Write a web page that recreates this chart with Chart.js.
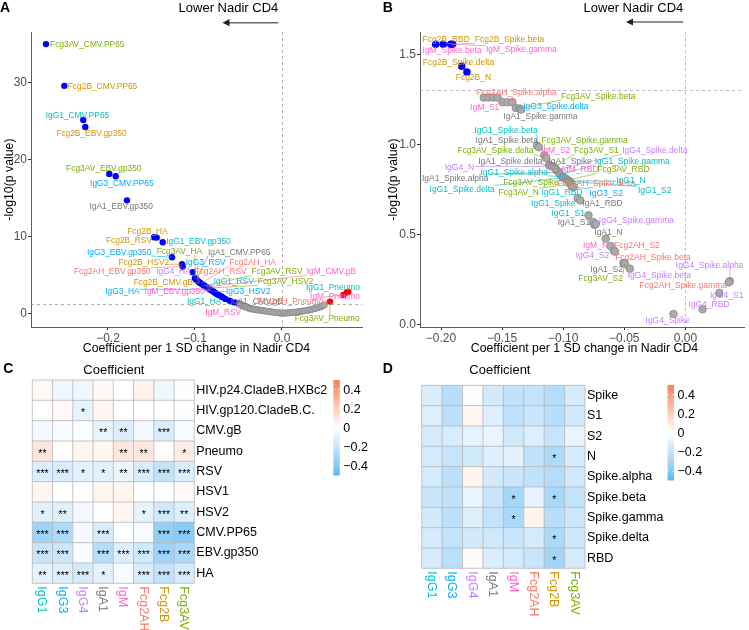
<!DOCTYPE html>
<html><head><meta charset="utf-8">
<script src="https://cdn.jsdelivr.net/npm/chart.js@4.4.1/dist/chart.umd.min.js"></script>
<style>
html,body{margin:0;padding:0;background:#fff;}
body{width:749px;height:630px;position:relative;overflow:hidden;}
canvas{position:absolute;}
</style></head><body>
<canvas id="cA" width="370" height="360" style="left:0;top:0"></canvas>
<canvas id="cB" width="379" height="360" style="left:370px;top:0"></canvas>
<canvas id="cC" width="370" height="290" style="left:0;top:340px"></canvas>
<canvas id="cD" width="379" height="290" style="left:370px;top:340px"></canvas>
<script>
// ---------------- DATA ----------------
// Panel A: coefficient and -log10(p) per isotype_antigen
const aNames = [
 'Fcg3AV_CMV.PP65','Fcg2B_CMV.PP65','IgG1_CMV.PP65','Fcg2B_EBV.gp350','Fcg3AV_EBV.gp350','IgG3_CMV.PP65','IgA1_EBV.gp350',
 'Fcg2B_HA','Fcg2B_RSV','IgG1_EBV.gp350','IgG3_EBV.gp350','Fcg2B_HSV2','Fcg2AH_EBV.gp350','IgG4_HA',
 'Fcg3AV_HA','IgA1_CMV.PP65','IgG3_RSV','Fcg2AH_RSV','Fcg2B_CMV.gB','Fcg2AH_HA','IgG1_RSV','Fcg3AV_RSV','IgM_CMV.gB',
 'Fcg3AV_HSV2','IgG3_HA','IgM_EBV.gp350','IgG3_HSV2','IgG1_HSV2','IgA1_RSV','IgG4_RSV','IgA1_HA','IgG1_HA',
 'Fcg2AH_HSV2','IgG4_HIV.gp120','IgA1_CMV.gB','IgM_RSV',
 'IgG1_Pneumo','IgM_Pneumo','Fcg2AH_Pneumo','Fcg3AV_Pneumo',
 'IgG1_CMV.gB','IgG3_CMV.gB','Fcg3AV_CMV.gB','IgG4_CMV.gB','Fcg2AH_CMV.gB','IgG4_CMV.PP65','Fcg2AH_CMV.PP65','IgG4_EBV.gp350',
 'IgG4_HSV2','IgM_HA','Fcg2B_HSV1','Fcg2AH_HSV1','IgG4_HSV1','IgG3_HIV.p24','IgG4_HIV.p24','Fcg2B_HIV.p24','IgM_HIV.p24',
 'Fcg3AV_HIV.p24','IgM_HIV.gp120','Fcg2AH_HIV.gp120','Fcg2B_HIV.gp120','Fcg3AV_HIV.gp120',
 'IgG1_HIV.gp120','IgM_CMV.PP65','IgA1_HSV2','IgG3_HSV1','Fcg3AV_HSV1','IgM_HSV1','IgG3_Pneumo','Fcg2B_Pneumo','IgA1_HSV1',
 'IgG1_HSV1','IgA1_Pneumo','IgG4_Pneumo','IgA1_HIV.gp120','IgG3_HIV.gp120','IgA1_HIV.p24','IgG1_HIV.p24','IgM_HSV2','Fcg2AH_HIV.p24'
];
const aCoef = [
 -0.2713,-0.2502,-0.2284,-0.2261,-0.1985,-0.1911,-0.1782,
 -0.1471,-0.1440,-0.1371,-0.1264,-0.1149,-0.1141,-0.1026,
 -0.1000,-0.0985,-0.0970,-0.0955,-0.0945,-0.0930,-0.0905,-0.0890,-0.0870,
 -0.0850,-0.0830,-0.0810,-0.0790,-0.0770,-0.0750,-0.0730,-0.0700,-0.0680,
 -0.0650,-0.0600,-0.0550,-0.0500,
 0.0762,0.0744,0.0705,0.0552,
 -0.0480,-0.0465,-0.0450,-0.0432,-0.0415,-0.0398,-0.0380,-0.0362,-0.0343,-0.0322,-0.0300,-0.0276,-0.0252,-0.0228,
 -0.0205,-0.0180,-0.0150,-0.0120,-0.0090,-0.0060,-0.0030,-0.0008,
 0.0020,0.0045,0.0070,0.0095,0.0120,0.0150,0.0180,0.0205,0.0230,0.0260,0.0290,0.0320,0.0350,0.0380,0.0410,0.0440,0.0465,0.0485
];
const aNegLogP = [
 35.03,29.61,25.17,24.26,18.18,17.88,14.74,
 9.96,9.91,9.31,7.36,6.45,6.14,5.42,
 4.62,4.45,4.30,4.15,4.05,3.95,3.75,3.62,3.50,
 3.35,3.20,3.05,2.90,2.75,2.60,2.45,2.30,2.15,
 1.95,1.70,1.50,1.35,
 2.86,2.78,2.47,1.60,
 1.25,1.15,1.06,0.97,0.90,0.82,0.75,0.69,0.64,0.60,0.56,0.52,0.48,0.44,
 0.40,0.36,0.31,0.26,0.21,0.17,0.13,0.10,
 0.10,0.12,0.14,0.16,0.19,0.22,0.26,0.30,0.35,0.40,0.46,0.53,0.61,0.70,0.80,0.92,1.04,1.15
];
const aXTicks = [-0.2, -0.1, 0.0];
const aYTicks = [0, 10, 20, 30];

// Panel B
const bNames = [
 'Fcg2B_RBD','IgM_Spike.beta','Fcg2B_Spike.beta','IgM_Spike.gamma','Fcg2B_Spike.delta','Fcg2B_N',
 'IgG3_Spike.beta','IgG3_Spike.gamma','IgG3_RBD','IgG3_Spike.alpha','IgG3_S1','IgM_S1','Fcg2AH_Spike.alpha',
 'IgG3_Spike.delta','Fcg3AV_Spike.beta','IgA1_Spike.gamma',
 'IgG1_Spike.beta','IgA1_Spike.beta','Fcg3AV_Spike.gamma','Fcg3AV_Spike.delta','IgA1_Spike.delta','IgM_S2','IgG4_N',
 'Fcg3AV_S1','IgG4_Spike.delta','IgA1_Spike.alpha','IgA1_Spike','IgG1_Spike.gamma','IgG1_Spike.alpha','IgG1_Spike.delta',
 'IgM_RBD','Fcg3AV_Spike','Fcg3AV_RBD','IgG1_N','IgG1_S2','Fcg2AH_Spike.delta','Fcg3AV_N','IgG1_RBD','IgG3_S2',
 'IgG1_Spike','IgA1_RBD','IgG1_S1','IgA1_S1','IgA1_N','IgG4_Spike.gamma','IgM_N','Fcg2AH_S2','IgG4_S2',
 'Fcg2AH_Spike.beta','IgA1_S2','Fcg3AV_S2','IgG4_Spike.beta','IgG4_Spike','IgG4_RBD','IgG4_S1','IgG4_Spike.alpha',
 'Fcg2AH_Spike.gamma'
];
const bCoef = [
 -0.2044,-0.1982,-0.1920,-0.1905,-0.1831,-0.1788,
 -0.1650,-0.1613,-0.1572,-0.1537,-0.1497,-0.1456,-0.1416,
 -0.1388,-0.1356,-0.1345,
 -0.1215,-0.1200,-0.1154,-0.1140,-0.1115,-0.1110,-0.1090,
 -0.1075,-0.1057,-0.1035,-0.1040,-0.1024,-0.1005,-0.1000,
 -0.0980,-0.0970,-0.0963,-0.0955,-0.0945,-0.0950,-0.0940,-0.0930,-0.0915,
 -0.0882,-0.0860,-0.0793,-0.0755,-0.0745,-0.0733,-0.0652,-0.0612,-0.0585,
 -0.0575,-0.0507,-0.0496,-0.0455,-0.0097,0.0141,0.0278,0.0364,
 0.0355
];
const bNegLogP = [
 1.557,1.557,1.557,1.557,1.435,1.403,
 1.261,1.261,1.261,1.261,1.235,1.235,1.235,
 1.203,1.200,1.195,
 0.995,0.985,0.940,0.925,0.885,0.883,0.878,
 0.875,0.859,0.845,0.850,0.833,0.822,0.815,
 0.811,0.806,0.802,0.798,0.795,0.790,0.780,0.770,0.765,
 0.702,0.690,0.607,0.570,0.555,0.559,0.478,0.437,0.411,
 0.405,0.342,0.339,0.311,0.059,0.085,0.176,0.242,
 0.235
];
const bXTicks = [-0.20, -0.15, -0.10, -0.05, 0.00];
const bYTicks = [0, 0.5, 1.0, 1.5];

// Panels C and D (heatmaps, values read against the colour legend)
const isotypes = ['IgG1','IgG3','IgG4','IgA1','IgM','Fcg2AH','Fcg2B','Fcg3AV'];
const cRows = ['HIV.p24.CladeB.HXBc2','HIV.gp120.CladeB.C.','CMV.gB','Pneumo','RSV','HSV1','HSV2','CMV.PP65','EBV.gp350','HA'];
const cCoef = [
 [0.026,-0.056,-0.056,0.026,0.000,0.052,-0.056,-0.014],
 [0.000,0.026,-0.084,0.039,0.000,0.000,0.000,-0.014],
 [-0.042,-0.028,-0.014,-0.077,-0.122,-0.042,-0.133,-0.028],
 [0.099,0.000,0.039,0.033,0.096,0.092,0.007,0.072],
 [-0.127,-0.136,-0.102,-0.105,-0.070,-0.134,-0.202,-0.125],
 [0.039,0.000,0.000,0.039,0.039,0.000,0.000,0.026],
 [-0.108,-0.111,-0.042,0.000,0.039,-0.091,-0.161,-0.119],
 [-0.319,-0.267,-0.042,-0.139,0.000,-0.028,-0.350,-0.379],
 [-0.192,-0.176,-0.028,-0.249,-0.113,-0.160,-0.316,-0.279],
 [-0.095,-0.116,-0.144,-0.098,-0.028,-0.130,-0.206,-0.140]
];
const cStars = [
 [0,0,0,0,0,0,0,0],
 [0,0,1,0,0,0,0,0],
 [0,0,0,2,2,0,3,0],
 [2,0,0,0,2,2,0,1],
 [3,3,1,1,2,3,3,3],
 [0,0,0,0,0,0,0,0],
 [1,2,0,0,0,1,3,2],
 [3,3,0,3,0,0,3,3],
 [3,3,0,3,3,3,3,3],
 [2,3,3,1,0,3,3,3]
];
const dRows = ['Spike','S1','S2','N','Spike.alpha','Spike.beta','Spike.gamma','Spike.delta','RBD'];
const dCoef = [
 [-0.132,-0.240,-0.015,-0.156,-0.210,-0.203,-0.248,-0.146],
 [-0.119,-0.225,0.036,-0.114,-0.219,-0.180,-0.240,-0.162],
 [-0.143,-0.138,-0.090,-0.077,-0.167,-0.120,-0.195,-0.075],
 [-0.144,-0.195,-0.164,-0.113,-0.098,-0.210,-0.269,-0.141],
 [-0.150,-0.231,0.047,-0.156,-0.180,-0.213,-0.248,-0.165],
 [-0.183,-0.210,-0.069,-0.180,-0.297,-0.087,-0.288,-0.204],
 [-0.153,-0.225,-0.110,-0.203,-0.287,0.047,-0.240,-0.173],
 [-0.150,-0.209,-0.159,-0.168,-0.180,-0.143,-0.275,-0.171],
 [-0.140,-0.236,0.021,-0.129,-0.147,-0.188,-0.306,-0.144]
];
const dStars = [
 [0,0,0,0,0,0,0,0],
 [0,0,0,0,0,0,0,0],
 [0,0,0,0,0,0,0,0],
 [0,0,0,0,0,0,1,0],
 [0,0,0,0,0,0,0,0],
 [0,0,0,0,1,0,1,0],
 [0,0,0,0,1,0,0,0],
 [0,0,0,0,0,0,1,0],
 [0,0,0,0,0,0,1,0]
];
const legendTicks = [0.4, 0.2, 0, -0.2, -0.4];

// ---------------- STYLE / LAYOUT ----------------
const FONT = "'Liberation Sans', Arial, Helvetica, sans-serif";
Chart.defaults.font.family = FONT;
Chart.defaults.color = '#4D4D4D';
const isoColors = {IgG1:'#00BFC4', IgG3:'#00A9FF', IgG4:'#C77CFF', IgA1:'#777777', IgM:'#FF61CC', Fcg2AH:'#F8766D', Fcg2B:'#CD9600', Fcg3AV:'#7CAE00'};
const SIG = -Math.log10(0.05);
const MINUS = '\u2212';

// label nudges in pixels (label centre relative to point) - ggrepel-like layout
const aLabelNudge = {
 'Fcg3AV_CMV.PP65':[41.3,0],'Fcg2B_CMV.PP65':[38.2,0],'IgG1_CMV.PP65':[-5.8,-5],'Fcg2B_EBV.gp350':[6.2,5.7],
 'Fcg3AV_EBV.gp350':[-5.5,-5.3],'IgG3_CMV.PP65':[6.1,6.7],'IgA1_EBV.gp350':[-5.8,5.7],'Fcg2B_HA':[-6.5,-5.6],
 'Fcg2B_RSV':[-27.7,3],'IgG1_EBV.gp350':[35.8,-0.6],'IgG3_EBV.gp350':[-52.8,-5],'Fcg2B_HSV2':[-38.2,-2],
 'Fcg2AH_EBV.gp350':[-70.5,5],'IgG4_HA':[-19.2,-0.6],
 'Fcg3AV_HA':[-15.5,-27.4],'IgA1_CMV.PP65':[42.9,-27.4],'IgG3_RSV':[8.1,-18.6],'Fcg2AH_RSV':[21.6,-10.3],
 'Fcg2B_CMV.gB':[-36.5,-0.5],'Fcg2AH_HA':[51.6,-21.3],'IgG1_RSV':[30.5,-3.4],'Fcg3AV_RSV':[72.4,-14.4],
 'IgM_CMV.gB':[125,-15.4],'Fcg3AV_HSV2':[77.6,-6.5],'IgG3_HA':[-87.3,2.3],'IgM_EBV.gp350':[-36.8,1.2],
 'IgG3_HSV2':[35,0],'IgG1_HA':[-18.6,3.6],'IgA1_CMV.gB':[22.8,-1.5],'IgM_RSV':[-15.2,9.1],
 'IgG1_Pneumo':[-15.3,-4.7],'IgM_Pneumo':[-11.7,4],'Fcg2AH_Pneumo':[-53,6],'Fcg3AV_Pneumo':[-2.8,16.6]
};
const bLabelNudge = {
 'Fcg2B_RBD':[10.6,-4.7],'IgM_Spike.beta':[8.9,6],'Fcg2B_Spike.beta':[58.7,-4.7],'IgM_Spike.gamma':[68.7,5.3],
 'Fcg2B_Spike.delta':[-3.2,-4.3],'Fcg2B_N':[6.5,5.6],
 'IgM_S1':[-22.8,5.3],'Fcg2AH_Spike.alpha':[4.4,-9.7],'IgG3_Spike.delta':[40,-1.8],'Fcg3AV_Spike.beta':[78.5,-12.3],
 'IgA1_Spike.gamma':[19.4,6.8],
 'IgG1_Spike.beta':[-30.9,-15.2],'IgA1_Spike.beta':[-32,-7],'Fcg3AV_Spike.gamma':[40.3,-15.1],'Fcg3AV_Spike.delta':[-50.7,-7.8],
 'IgA1_Spike.delta':[-38.8,-4.3],'IgM_S2':[5.9,-15.4],'IgG4_N':[-92.8,0.4],'Fcg3AV_S1':[42.4,-16.8],
 'IgG4_Spike.delta':[98.6,-19.7],'IgA1_Spike.alpha':[-103.7,5.5],'IgA1_Spike':[11.9,-10.6],'IgG1_Spike.gamma':[72,-13.7],
 'IgG1_Spike.alpha':[-48.3,-4.6],'IgG1_Spike.delta':[-101,11.4],'IgM_RBD':[14.5,-9],'Fcg3AV_Spike':[-35.9,2.5],
 'Fcg3AV_RBD':[55.7,-10.7],'IgG1_N':[62.2,-0.7],'IgG1_S2':[84.8,8.8],'Fcg2AH_Spike.delta':[27.1,1.2],
 'Fcg3AV_N':[-51.8,7.8],'IgG1_RBD':[-9.7,6],'IgG3_S2':[32.5,6.1],'IgG1_Spike':[-24.3,4.7],'IgA1_RBD':[22.2,2.6],
 'IgG1_S1':[-20.3,-2.3],'IgA1_S1':[-19.2,0],'IgA1_N':[14.1,7.3],'IgG4_Spike.gamma':[40.6,-3.7],'IgM_N':[-10.2,6.7],
 'Fcg2AH_S2':[26.3,-0.6],'IgG4_S2':[-21.5,4.7],'Fcg2AH_Spike.beta':[37.8,5.3],'IgA1_S2':[-16.8,5.6],
 'Fcg3AV_S2':[-24.2,14.4],'IgG4_Spike.beta':[29.6,6.7],'IgG4_Spike':[-5.8,6.3],'IgG4_RBD':[6.3,-5],
 'IgG4_S1':[7.3,1.7],'IgG4_Spike.alpha':[-20.3,-15.7],'Fcg2AH_Spike.gamma':[-45.5,3]
};

// ---------------- helpers ----------------
function fmtNum(v, d){ const s = Math.abs(v).toFixed(d); return (v < -1e-9 ? MINUS : '') + s; }

function volcano(id, names, coef, nlp, cfg){
  const pts = names.map((n,i)=>({x:coef[i], y:nlp[i], name:n}));
  const gray = pts.filter(p=>p.y < SIG);
  const blue = pts.filter(p=>p.y >= SIG && p.x < 0);
  const red = pts.filter(p=>p.y >= SIG && p.x >= 0);
  const plugin = {
    id:'volc'+cfg.letter,
    beforeDatasetsDraw(chart){
      const {ctx, chartArea:a, scales:{x,y}} = chart;
      ctx.save(); ctx.strokeStyle = cfg.dashColor; ctx.lineWidth = 0.8; ctx.setLineDash([3,3]);
      ctx.beginPath();
      const y0 = Math.round(y.getPixelForValue(SIG))+0.5; ctx.moveTo(a.left,y0); ctx.lineTo(a.right,y0);
      const x0 = Math.round(x.getPixelForValue(0))+0.5; ctx.moveTo(x0,a.top); ctx.lineTo(x0,a.bottom);
      ctx.stroke(); ctx.restore();
    },
    afterDatasetsDraw(chart){
      const {ctx, scales:{x,y}} = chart;
      ctx.save();
      ctx.font = cfg.labelSize+'px '+FONT; ctx.textAlign='center'; ctx.textBaseline='middle';
      names.forEach((n,i)=>{
        const nud = cfg.nudge[n]; if(!nud) return;
        const px = x.getPixelForValue(coef[i]), py = y.getPixelForValue(nlp[i]);
        const cx = px+nud[0], cy = py+nud[1];
        const w = ctx.measureText(n).width, h = cfg.labelSize*0.9;
        const col = isoColors[n.split('_')[0]];
        const nx = Math.max(cx-w/2, Math.min(px, cx+w/2)), ny = Math.max(cy-h/2, Math.min(py, cy+h/2));
        if (Math.hypot(nx-px, ny-py) > cfg.r+2){
          ctx.strokeStyle = col; ctx.lineWidth = 0.6; ctx.beginPath(); ctx.moveTo(px,py); ctx.lineTo(nx,ny); ctx.stroke();
        }
        ctx.fillStyle = col; ctx.fillText(n, cx, cy+0.5);
      });
      ctx.restore();
    },
    afterDraw(chart){
      const {ctx, chartArea:a} = chart;
      ctx.save();
      ctx.fillStyle = '#000'; ctx.font = 'bold 14px '+FONT; ctx.textAlign='left'; ctx.textBaseline='alphabetic';
      ctx.fillText(cfg.letter, cfg.letterX, 11.8);
      ctx.font = '13px '+FONT; ctx.textAlign='right';
      ctx.fillText('Lower Nadir CD4', cfg.arrowRight, 11.8);
      // arrow
      ctx.strokeStyle = '#6b6b6b'; ctx.lineWidth = 1.6; ctx.beginPath();
      ctx.moveTo(cfg.arrowRight, cfg.arrowY); ctx.lineTo(cfg.arrowTip+6, cfg.arrowY); ctx.stroke();
      ctx.fillStyle = '#222'; ctx.beginPath();
      ctx.moveTo(cfg.arrowTip, cfg.arrowY); ctx.lineTo(cfg.arrowTip+7, cfg.arrowY-3.6); ctx.lineTo(cfg.arrowTip+7, cfg.arrowY+3.6); ctx.closePath(); ctx.fill();
      // axis titles
      ctx.fillStyle = '#000'; ctx.font = '12.3px '+FONT; ctx.textAlign='center';
      ctx.fillText('Coefficient per 1 SD change in Nadir CD4', cfg.xTitleX, 352.3);
      ctx.translate(cfg.yTitleX, (a.top+a.bottom)/2); ctx.rotate(-Math.PI/2); ctx.textBaseline='middle';
      ctx.fillText('-log10(p value)', 0, 0);
      ctx.restore();
    }
  };
  const ds = (data, bg, bc, bw) => ({data, backgroundColor:bg, borderColor:bc, borderWidth:bw, pointRadius:cfg.r, pointHoverRadius:cfg.r});
  return new Chart(document.getElementById(id), {
    type:'scatter',
    data:{datasets:[ds(gray,'#ABABAB','#868686',0.8), ds(blue,'#0000FF','#0000FF',0), ds(red,'#FF0000','#FF0000',0)]},
    options:{
      responsive:false, animation:false, devicePixelRatio:1,
      layout:{padding:{left:0, top:32, right:cfg.padRight, bottom:0}},
      plugins:{legend:{display:false}, tooltip:{enabled:false}},
      scales:{
        x:{type:'linear', min:cfg.xMin, max:cfg.xMax,
           afterBuildTicks:s=>{ s.ticks = cfg.xTicks.map(v=>({value:v})); },
           afterFit:s=>{ s.height = 33; },
           grid:{drawOnChartArea:false, tickLength:3, color:'#333', tickColor:'#333'},
           border:{display:true, color:'#333', width:0.8},
           ticks:{padding:1, color:'#4D4D4D', font:{size:12}, maxRotation:0, autoSkip:false, callback:v=>fmtNum(v, cfg.xDec)}},
        y:{type:'linear', min:cfg.yMin, max:cfg.yMax,
           afterBuildTicks:s=>{ s.ticks = cfg.yTicks.map(v=>({value:v})); },
           afterFit:s=>{ s.width = cfg.yWidth; },
           grid:{drawOnChartArea:false, tickLength:3, color:'#333', tickColor:'#333'},
           border:{display:true, color:'#333', width:0.8},
           ticks:{padding:1, color:'#4D4D4D', font:{size:12}, autoSkip:false, callback:v=>fmtNum(v, cfg.yDec)}}
      }
    },
    plugins:[plugin]
  });
}

// Lab colour interpolation (like ggplot gradient2)
function toLin(c){ c/=255; return c<=0.04045 ? c/12.92 : Math.pow((c+0.055)/1.055, 2.4); }
function fromLin(c){ const v = c<=0.0031308 ? 12.92*c : 1.055*Math.pow(c,1/2.4)-0.055; return Math.round(Math.max(0,Math.min(1,v))*255); }
function rgb2lab(c){
  const r=toLin(c[0]), g=toLin(c[1]), b=toLin(c[2]);
  const X=(0.4124*r+0.3576*g+0.1805*b)/0.95047, Y=(0.2126*r+0.7152*g+0.0722*b), Z=(0.0193*r+0.1192*g+0.9505*b)/1.08883;
  const f=t=>t>0.008856?Math.cbrt(t):7.787*t+16/116;
  const fx=f(X), fy=f(Y), fz=f(Z);
  return [116*fy-16, 500*(fx-fy), 200*(fy-fz)];
}
function lab2rgb(l){
  const fy=(l[0]+16)/116, fx=fy+l[1]/500, fz=fy-l[2]/200;
  const fi=t=>t*t*t>0.008856?t*t*t:(t-16/116)/7.787;
  const X=fi(fx)*0.95047, Y=fi(fy), Z=fi(fz)*1.08883;
  const r= 3.2406*X-1.5372*Y-0.4986*Z, g=-0.9689*X+1.8758*Y+0.0415*Z, b=0.0557*X-0.2040*Y+1.0570*Z;
  return [fromLin(r), fromLin(g), fromLin(b)];
}
const LAB_LOW = rgb2lab([80,188,245]), LAB_MID = rgb2lab([255,255,255]), LAB_HIGH = rgb2lab([244,128,86]);
const LIM = 0.5;
function fillFor(v){
  let t = Math.max(-1, Math.min(1, v/LIM));
  const end = t<0 ? LAB_LOW : LAB_HIGH; t = Math.abs(t);
  const l = [0,1,2].map(k=>LAB_MID[k]+(end[k]-LAB_MID[k])*t);
  const c = lab2rgb(l); return 'rgb('+c[0]+','+c[1]+','+c[2]+')';
}

function heatmap(id, rows, cols, coef, stars, cfg){
  const nR = rows.length;
  const datasets = [];
  for (let k=0;k<nR;k++){
    const r = nR-1-k;
    datasets.push({data: cols.map(()=>1), backgroundColor: coef[r].map(fillFor), borderWidth:0,
      barPercentage:1, categoryPercentage:1, stack:'s'});
  }
  const plugin = {
    id:'heat'+cfg.letter,
    afterDatasetsDraw(chart){
      const {ctx, chartArea:a, scales:{x,y}} = chart;
      ctx.save();
      ctx.strokeStyle = '#B6B6B6'; ctx.lineWidth = 0.8; ctx.beginPath();
      for (let k=0;k<=nR;k++){ const yy = y.getPixelForValue(k); ctx.moveTo(a.left,yy); ctx.lineTo(a.right,yy); }
      const cw = (a.right-a.left)/cols.length;
      for (let c=0;c<=cols.length;c++){ const xx = a.left+c*cw; ctx.moveTo(xx,a.top); ctx.lineTo(xx,a.bottom); }
      ctx.stroke();
      ctx.fillStyle = '#000'; ctx.font = '10.5px '+FONT; ctx.textAlign='center'; ctx.textBaseline='middle';
      rows.forEach((r,ri)=>{
        const meta = chart.getDatasetMeta(nR-1-ri);
        stars[ri].forEach((s,ci)=>{ if(!s) return; const el = meta.data[ci];
          ctx.fillText('*'.repeat(s), el.x, (el.y+el.base)/2+2.5); });
      });
      ctx.restore();
    },
    afterDraw(chart){
      const {ctx, chartArea:a, scales:{x}} = chart;
      ctx.save();
      ctx.fillStyle='#000'; ctx.textBaseline='alphabetic'; ctx.textAlign='left';
      ctx.font='bold 14px '+FONT; ctx.fillText(cfg.letter, cfg.letterX, 33);
      ctx.font='13px '+FONT; ctx.fillText('Coefficient', cfg.titleX, 34);
      // column labels (rotated, reading downward)
      ctx.font='12.5px '+FONT;
      cols.forEach((c,ci)=>{
        const xx = x.getPixelForValue(ci);
        ctx.save(); ctx.translate(xx, a.bottom+3); ctx.rotate(Math.PI/2);
        ctx.textAlign='left'; ctx.textBaseline='middle'; ctx.fillStyle = isoColors[c];
        ctx.fillText(c, 0, 0.5); ctx.restore();
      });
      // colour legend
      const top = cfg.legTop, h = 95.5, lx = cfg.legX, lw = 6.5;
      const vToY = v => top + (LIM - v)/(2*LIM)*h;
      const grad = ctx.createLinearGradient(0, top, 0, top+h);
      for (let i=0;i<=20;i++){ const v = LIM - i*(2*LIM)/20; grad.addColorStop(i/20, fillFor(v)); }
      ctx.fillStyle = grad; ctx.fillRect(lx, top, lw, h);
      ctx.strokeStyle='#fff'; ctx.lineWidth=0.8; ctx.beginPath();
      legendTicks.forEach(v=>{ const yy=vToY(v); ctx.moveTo(lx,yy); ctx.lineTo(lx+1.4,yy); ctx.moveTo(lx+lw-1.4,yy); ctx.lineTo(lx+lw,yy); });
      ctx.stroke();
      ctx.fillStyle='#000'; ctx.font='12.5px '+FONT; ctx.textAlign='left'; ctx.textBaseline='middle';
      legendTicks.forEach(v=>{ ctx.fillText(v===0?'0':fmtNum(v,1), lx+lw+3.5, vToY(v)+0.5); });
      ctx.restore();
    }
  };
  return new Chart(document.getElementById(id), {
    type:'bar',
    data:{labels: cols, datasets},
    options:{
      responsive:false, animation:false, devicePixelRatio:1,
      layout:{padding:{left:cfg.left, top:cfg.top, right:0, bottom:0}},
      plugins:{legend:{display:false}, tooltip:{enabled:false}},
      scales:{
        x:{type:'category', stacked:true, ticks:{display:false}, grid:{display:false, drawTicks:false}, border:{display:false},
           afterFit:s=>{ s.height = cfg.xh; }},
        y:{type:'linear', position:'right', stacked:true, min:0, max:nR,
           afterBuildTicks:s=>{ s.ticks = rows.map((_,i)=>({value:i+0.5})); },
           ticks:{autoSkip:false, color:'#000', font:{size:12.5}, padding:2, callback:v=>rows[nR-1-Math.floor(v)]},
           grid:{display:false, drawTicks:false}, border:{display:false},
           afterFit:s=>{ s.width = cfg.yw; }}
      }
    },
    plugins:[plugin]
  });
}

// ---------------- build ----------------
volcano('cA', aNames, aCoef, aNegLogP, {
  letter:'A', letterX:0, arrowRight:278.3, arrowTip:222.5, arrowY:22.7,
  xTitleX:196.5, yTitleX:9.5, dashColor:'#9A9A9A',
  xMin:-0.2885, xMax:0.092, yMin:-1.7, yMax:36.6, xTicks:aXTicks, yTicks:aYTicks, xDec:1, yDec:0,
  yWidth:31, padRight:8, r:3.2, labelSize:8.4, nudge:aLabelNudge
});
volcano('cB', bNames, bCoef, bNegLogP, {
  letter:'B', letterX:12.7, arrowRight:313.3, arrowTip:256, arrowY:22,
  xTitleX:214.5, yTitleX:23.5, dashColor:'#A3ABBA',
  xMin:-0.2172, xMax:0.0483, yMin:-0.013, yMax:1.625, xTicks:bXTicks, yTicks:bYTicks, xDec:2, yDec:1,
  yWidth:50, padRight:1, r:3.8, labelSize:8.5, nudge:bLabelNudge
});
heatmap('cC', cRows, isotypes, cCoef, cStars, {
  letter:'C', letterX:3.3, titleX:83.3, left:32.3, top:40, xh:46.7, yw:175.7, legX:333.3, legTop:40
});
heatmap('cD', dRows, isotypes, dCoef, dStars, {
  letter:'D', letterX:12.7, titleX:99.3, left:51.7, top:45.3, xh:61.7, yw:164, legX:297.5, legTop:45
});
</script>
</body></html>
